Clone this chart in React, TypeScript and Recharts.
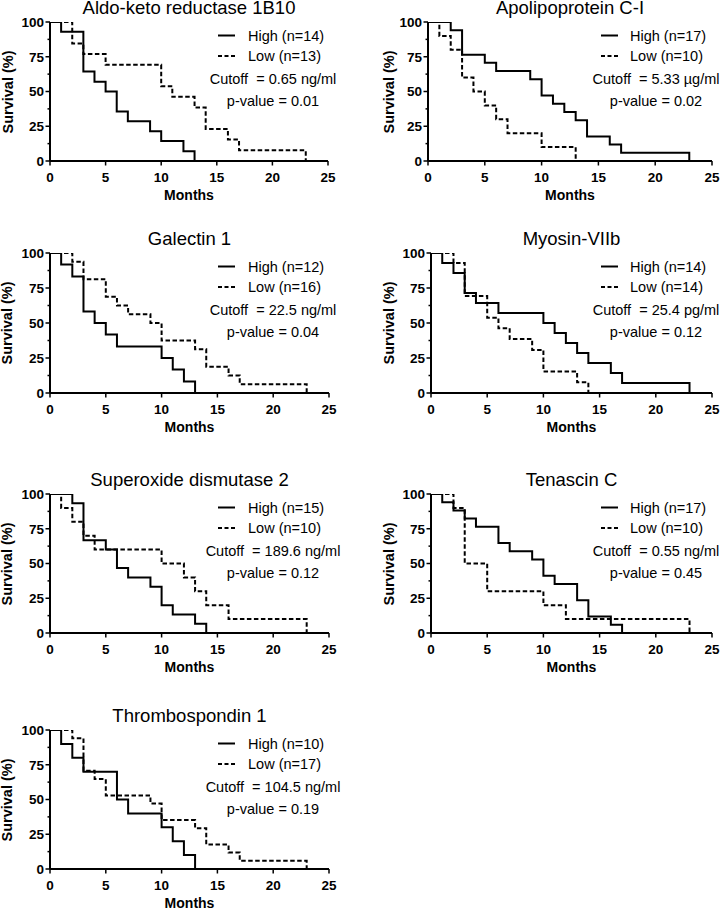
import { LineChart, Line, XAxis, YAxis } from "recharts";

// Kaplan-Meier steps: [month, survival %]
const aldoHigh = [[0, 100], [1, 92.9], [3, 64.3], [4, 57.1], [5, 50], [6, 35.7], [7, 28.6], [9, 21.4], [10, 14.3], [12, 7.1], [13, 0]];
const aldoLow = [[0, 100], [2, 84.6], [3, 76.9], [5, 69.2], [10, 53.8], [11, 46.2], [13, 38.5], [14, 23.1], [16, 15.4], [17, 7.7], [23, 0]];
const apoHigh = [[0, 100], [2, 94.1], [3, 76.5], [5, 70.6], [6, 64.7], [9, 58.8], [10, 47.1], [11, 41.2], [12, 35.3], [13, 29.4], [14, 17.6], [16, 11.8], [17, 5.9], [23, 0]];
const apoLow = [[0, 100], [1, 90], [2, 80], [3, 60], [4, 50], [5, 40], [6, 30], [7, 20], [10, 10], [13, 0]];
const galHigh = [[0, 100], [1, 91.7], [2, 83.3], [3, 58.3], [4, 50], [5, 41.7], [6, 33.3], [10, 25], [11, 16.7], [12, 8.3], [13, 0]];
const galLow = [[0, 100], [2, 93.8], [3, 81.3], [5, 68.8], [6, 62.5], [7, 56.3], [9, 50], [10, 37.5], [13, 31.3], [14, 18.8], [16, 12.5], [17, 6.3], [23, 0]];
const myoHigh = [[0, 100], [1, 92.9], [2, 85.7], [3, 71.4], [4, 64.3], [6, 57.1], [10, 50], [11, 42.9], [12, 35.7], [13, 28.6], [14, 21.4], [16, 14.3], [17, 7.1], [23, 0]];
const myoLow = [[0, 100], [2, 92.9], [3, 69.2], [5, 53.8], [6, 46.2], [7, 38.5], [9, 30.8], [10, 15.4], [13, 7.7], [14, 0]];
const sodHigh = [[0, 100], [2, 93.3], [3, 66.7], [5, 60], [6, 46.7], [7, 40], [9, 33.3], [10, 20], [11, 13.3], [13, 6.7], [14, 0]];
const sodLow = [[0, 100], [1, 90], [2, 80], [3, 70], [4, 60], [10, 50], [12, 40], [13, 30], [14, 20], [16, 10], [23, 0]];
const tenHigh = [[0, 100], [1, 94.1], [2, 88.2], [3, 82.4], [4, 76.5], [6, 64.7], [7, 58.8], [9, 52.9], [10, 41.2], [11, 35.3], [13, 23.5], [14, 11.8], [16, 5.9], [17, 0]];
const tenLow = [[0, 100], [2, 90], [3, 50], [5, 30], [10, 20], [12, 10], [23, 0]];
const thrHigh = [[0, 100], [1, 90], [2, 80], [3, 70], [6, 50], [7, 40], [10, 30], [11, 20], [12, 10], [13, 0]];
const thrLow = [[0, 100], [2, 94.1], [3, 70.6], [4, 64.7], [5, 52.9], [9, 47.1], [10, 35.3], [13, 29.4], [14, 17.6], [16, 11.8], [17, 5.9], [23, 0]];

const titles = ["Aldo-keto reductase 1B10", "Apolipoprotein C-I", "Galectin 1", "Myosin-VIIb", "Superoxide dismutase 2", "Tenascin C", "Thrombospondin 1"];
const highSeries = [aldoHigh, apoHigh, galHigh, myoHigh, sodHigh, tenHigh, thrHigh];
const lowSeries = [aldoLow, apoLow, galLow, myoLow, sodLow, tenLow, thrLow];
const nHigh = [14, 17, 12, 14, 15, 17, 10];
const nLow = [13, 10, 16, 14, 10, 10, 17];
const cutoffs = ["0.65 ng/ml", "5.33 µg/ml", "22.5 ng/ml", "25.4 pg/ml", "189.6 ng/ml", "0.55 ng/ml", "104.5 ng/ml"];
const pValues = ["0.01", "0.02", "0.04", "0.12", "0.12", "0.45", "0.19"];

const monthTicks = [0, 5, 10, 15, 20, 25];
const survTicks = [0, 12.5, 25, 37.5, 50, 62.5, 75, 87.5, 100];

// plot box per panel: x0, x1, top, bottom, y-label x, column
const layout = [
  { x0: 50, x1: 328, top: 22, bottom: 161, yl: 8, col: 0 },
  { x0: 428, x1: 712, top: 22, bottom: 161, yl: 389, col: 1 },
  { x0: 50, x1: 329, top: 253, bottom: 393, yl: 7, col: 0 },
  { x0: 431, x1: 712, top: 253, bottom: 393, yl: 389, col: 1 },
  { x0: 50, x1: 329, top: 494, bottom: 633, yl: 7, col: 0 },
  { x0: 431, x1: 712, top: 494, bottom: 633, yl: 389, col: 1 },
  { x0: 50, x1: 329, top: 730, bottom: 869, yl: 7, col: 0 },
];
const legendCols = [
  { lx: 218, tx: 248, nx: 273 },
  { lx: 601, tx: 630, nx: 656 },
];

const FONT = '"Liberation Sans", Arial, Helvetica, sans-serif';
const YW = 50;
const MT = 6;
const MR = 12;
const XH = 45;

const toPts = (a: number[][]) => a.map(([t, s]) => ({ t, s }));

function Txt({ x, y, size, bold, anchor, children }: any) {
  const tx = anchor === "middle" ? "-50%" : anchor === "end" ? "-100%" : "0";
  return (
    <div
      style={{
        position: "absolute",
        left: x,
        top: y,
        transform: `translate(${tx}, -50%)`,
        fontSize: size,
        fontWeight: bold ? 700 : 400,
        lineHeight: 1,
        whiteSpace: "nowrap",
        color: "#000",
      }}
    >
      {children}
    </div>
  );
}

function Panel({ i }: { i: number }) {
  const L = layout[i];
  const lc = legendCols[L.col];
  const plotW = L.x1 - L.x0;
  const plotH = L.bottom - L.top;
  const w = plotW + YW + MR;
  const h = plotH + MT + XH;
  const axisY = MT + plotH;

  const yTick = (props: any) => {
    const { y, payload } = props;
    const v = payload.value;
    const major = v % 25 === 0;
    return (
      <g>
        <line x1={YW - (major ? 4.5 : 2.5)} x2={YW} y1={y} y2={y} stroke="#000" strokeWidth={1.5} />
        {major && (
          <text x={YW - 6} y={y} dy="0.36em" textAnchor="end" fontSize={13.5} fontWeight={700} fontFamily={FONT} fill="#000">
            {v}
          </text>
        )}
      </g>
    );
  };
  const xTick = (props: any) => {
    const { x, payload } = props;
    return (
      <g>
        <line x1={x} x2={x} y1={axisY} y2={axisY + 4.5} stroke="#000" strokeWidth={1.5} />
        <text x={x} y={axisY + 16.5} dy="0.36em" textAnchor="middle" fontSize={13.5} fontWeight={700} fontFamily={FONT} fill="#000">
          {payload.value}
        </text>
      </g>
    );
  };

  return (
    <>
      <div style={{ position: "absolute", left: L.x0 - YW, top: L.top - MT }}>
        <LineChart width={w} height={h} margin={{ top: MT, right: MR, left: 0, bottom: 0 }}>
          <XAxis
            type="number"
            dataKey="t"
            domain={[0, 25]}
            ticks={monthTicks}
            interval={0}
            height={XH}
            axisLine={{ stroke: "#000", strokeWidth: 2 }}
            tickLine={false}
            tick={xTick}
            allowDataOverflow
          />
          <YAxis
            type="number"
            dataKey="s"
            domain={[0, 100]}
            ticks={survTicks}
            interval={0}
            width={YW}
            axisLine={{ stroke: "#000", strokeWidth: 2 }}
            tickLine={false}
            tick={yTick}
            allowDataOverflow
          />
          <Line
            data={toPts(highSeries[i])}
            dataKey="s"
            type="stepAfter"
            stroke="#000"
            strokeWidth={2}
            dot={false}
            isAnimationActive={false}
          />
          <Line
            data={toPts(lowSeries[i])}
            dataKey="s"
            type="stepAfter"
            stroke="#000"
            strokeWidth={2}
            strokeDasharray="4.5 2.5"
            dot={false}
            isAnimationActive={false}
          />
        </LineChart>
      </div>

      <Txt x={(L.x0 + L.x1) / 2} y={L.top - 14.5} size={18.5} anchor="middle">
        {titles[i]}
      </Txt>

      <svg style={{ position: "absolute", left: lc.lx, top: L.top + 8 }} width={18} height={30}>
        <line x1={0} x2={17} y1={5.5} y2={5.5} stroke="#000" strokeWidth={2} />
        <line x1={0} x2={17} y1={26} y2={26} stroke="#000" strokeWidth={2} strokeDasharray="4 2.5" />
      </svg>
      <Txt x={lc.tx} y={L.top + 13.5} size={14.5}>
        High (n={nHigh[i]})
      </Txt>
      <Txt x={lc.tx} y={L.top + 34} size={14.5}>
        Low (n={nLow[i]})
      </Txt>
      <Txt x={lc.nx} y={L.top + 56.5} size={14.5} anchor="middle">
        {"Cutoff\u00a0 = " + cutoffs[i]}
      </Txt>
      <Txt x={lc.nx} y={L.top + 78.5} size={14.5} anchor="middle">
        p-value = {pValues[i]}
      </Txt>

      <Txt x={(L.x0 + L.x1) / 2} y={L.bottom + 34} size={14} bold anchor="middle">
        Months
      </Txt>
      <div
        style={{
          position: "absolute",
          left: L.yl,
          top: (L.top + L.bottom) / 2,
          transform: "translate(-50%, -50%) rotate(-90deg)",
          fontSize: 14.5,
          fontWeight: 700,
          lineHeight: 1,
          whiteSpace: "nowrap",
        }}
      >
        Survival (%)
      </div>
    </>
  );
}

export default function App() {
  return (
    <div
      style={{
        position: "absolute",
        left: 0,
        top: 0,
        width: 720,
        height: 909,
        background: "#fff",
        overflow: "hidden",
        fontFamily: FONT,
      }}
    >
      {titles.map((_, i) => (
        <Panel key={i} i={i} />
      ))}
    </div>
  );
}
